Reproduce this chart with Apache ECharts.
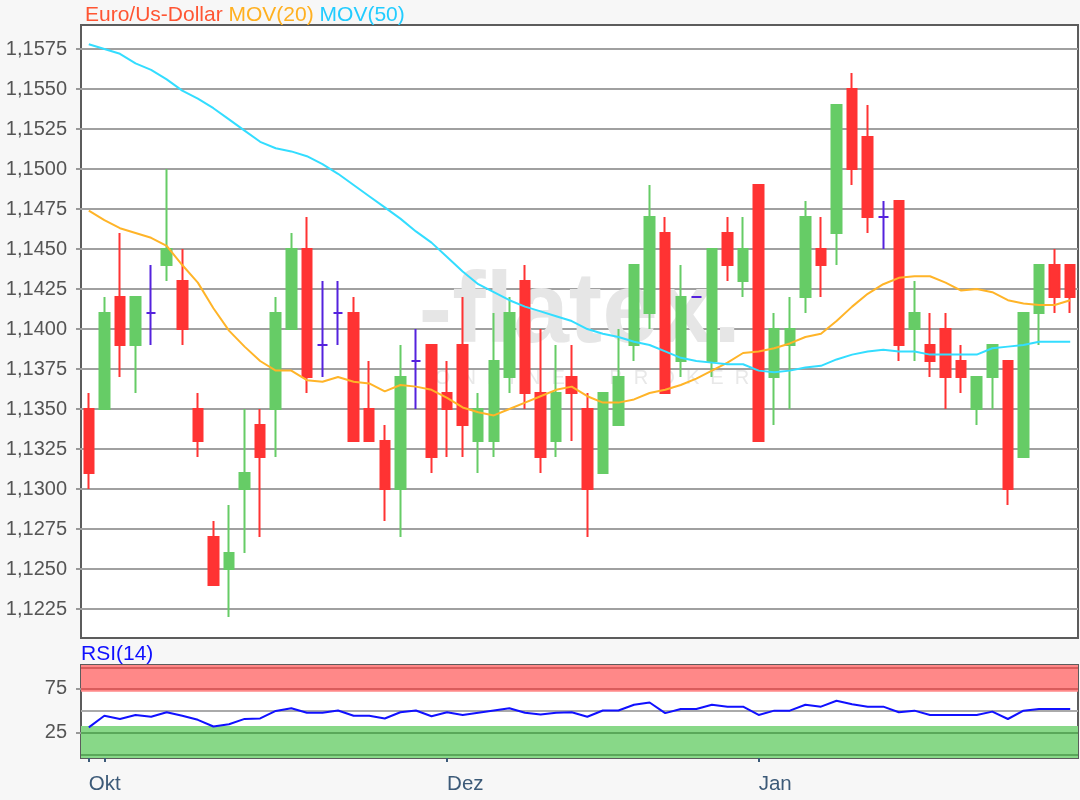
<!DOCTYPE html>
<html>
<head>
<meta charset="utf-8">
<script src="https://cdn.jsdelivr.net/npm/echarts@6/dist/echarts.min.js"></script>
<style>
html,body{margin:0;padding:0;background:#f7f7f7;}
#chart{width:1080px;height:800px;}
</style>
</head>
<body>
<div id="chart"></div>
<script>
// [open, close, low, high]
const candles = [
  [1.1350,1.1310,1.1300,1.1360],[1.1350,1.1410,1.1350,1.1420],[1.1420,1.1390,1.1370,1.1460],[1.1390,1.1420,1.1360,1.1420],
  [1.1410,1.1410,1.1390,1.1440],[1.1440,1.1450,1.1430,1.1500],[1.1430,1.1400,1.1390,1.1450],[1.1350,1.1330,1.1320,1.1360],
  [1.1270,1.1240,1.1240,1.1280],[1.1250,1.1260,1.1220,1.1290],[1.1300,1.1310,1.1260,1.1350],[1.1340,1.1320,1.1270,1.1350],
  [1.1350,1.1410,1.1320,1.1420],[1.1400,1.1450,1.1400,1.1460],[1.1450,1.1370,1.1360,1.1470],[1.1390,1.1390,1.1370,1.1430],
  [1.1410,1.1410,1.1390,1.1430],[1.1410,1.1330,1.1330,1.1420],[1.1350,1.1330,1.1330,1.1380],[1.1330,1.1300,1.1280,1.1340],
  [1.1300,1.1370,1.1270,1.1390],[1.1380,1.1380,1.1350,1.1400],[1.1390,1.1320,1.1310,1.1390],[1.1360,1.1350,1.1320,1.1380],
  [1.1390,1.1340,1.1320,1.1420],[1.1330,1.1350,1.1310,1.1360],[1.1330,1.1380,1.1320,1.1410],[1.1370,1.1410,1.1360,1.1420],
  [1.1430,1.1360,1.1350,1.1440],[1.1360,1.1320,1.1310,1.1400],[1.1330,1.1360,1.1320,1.1390],[1.1370,1.1360,1.1330,1.1390],
  [1.1350,1.1300,1.1270,1.1360],[1.1310,1.1360,1.1310,1.1360],[1.1340,1.1370,1.1340,1.1400],[1.1390,1.1440,1.1380,1.1440],
  [1.1410,1.1470,1.1400,1.1490],[1.1460,1.1360,1.1360,1.1470],[1.1380,1.1420,1.1370,1.1440],[1.1420,1.1420,1.1420,1.1420],
  [1.1380,1.1450,1.1370,1.1450],[1.1460,1.1440,1.1430,1.1470],[1.1430,1.1450,1.1420,1.1470],[1.1490,1.1330,1.1330,1.1490],
  [1.1370,1.1400,1.1340,1.1410],[1.1390,1.1400,1.1350,1.1420],[1.1420,1.1470,1.1410,1.1480],[1.1450,1.1440,1.1420,1.1470],
  [1.1460,1.1540,1.1440,1.1540],[1.1550,1.1500,1.1490,1.1560],[1.1520,1.1470,1.1460,1.1540],[1.1470,1.1470,1.1450,1.1480],
  [1.1480,1.1390,1.1380,1.1480],[1.1400,1.1410,1.1380,1.1430],[1.1390,1.1380,1.1370,1.1410],[1.1400,1.1370,1.1350,1.1410],
  [1.1380,1.1370,1.1360,1.1390],[1.1350,1.1370,1.1340,1.1370],[1.1370,1.1390,1.1350,1.1390],[1.1380,1.1300,1.1290,1.1380],
  [1.1320,1.1410,1.1320,1.1410],[1.1410,1.1440,1.1390,1.1440],[1.1440,1.1420,1.1410,1.1450],[1.1440,1.1420,1.1410,1.1440]
];
const mov20 = [
  1.1474,1.1468,1.1463,1.1460,1.1457,1.1452,1.1440,1.1429,1.1413,1.1399,1.1389,1.1380,1.1374,1.1374,1.1368,1.1367,
  1.1370,1.1367,1.1366,1.1361,1.1365,1.1364,1.1362,1.1357,1.1351,1.1348,1.1346,1.1350,1.1354,1.1358,1.1362,1.1364,
  1.1358,1.1354,1.1354,1.1356,1.1360,1.1362,1.1365,1.1369,1.1374,1.1379,1.1385,1.1386,1.1388,1.1391,1.1395,1.1397,
  1.1405,1.1414,1.1422,1.1428,1.1432,1.1433,1.1433,1.1429,1.1424,1.1425,1.1423,1.1418,1.1416,1.1415,1.1415,1.1418
];
const mov50 = [
  1.1578,1.1575,1.1572,1.1566,1.1562,1.1556,1.1549,1.1544,1.1538,1.1531,1.1524,1.1517,1.1513,1.1511,1.1508,1.1503,
  1.1497,1.1490,1.1483,1.1476,1.1469,1.1461,1.1454,1.1445,1.1436,1.1428,1.1423,1.1418,1.1414,1.1411,1.1408,1.1405,
  1.1400,1.1397,1.1395,1.1392,1.1390,1.1386,1.1382,1.1380,1.1379,1.1378,1.1378,1.1374,1.1373,1.1374,1.1376,1.1377,
  1.1381,1.1384,1.1386,1.1387,1.1386,1.1386,1.1384,1.1384,1.1384,1.1384,1.1388,1.1389,1.1390,1.1392,1.1392,1.1392
];
const rsi = [
  31,44,40.5,45,43,48,44,39.5,32,34.5,40.5,41,49.5,52.5,47.5,47.5,
  50,44,44,41,48,50,43.5,48,45,47.5,50,52.5,47.5,45.5,47.5,48,
  43,50,50,56.5,59,47,51.7,51.7,56.5,54.3,54.3,45,49.8,49.8,56.5,54.3,
  61,57,54.3,54.3,48,49.8,45,45,45,45,48.7,40.4,49.8,51.7,51.7,51.7
];
const categories = candles.map((_, i) => String(i));
const priceTicks = [1.1225,1.1250,1.1275,1.1300,1.1325,1.1350,1.1375,1.1400,1.1425,1.1450,1.1475,1.1500,1.1525,1.1550,1.1575];
const rsiTicks = [25, 75];
const monthLabels = {0: 'Okt', 23: 'Dez', 43: 'Jan'};
const monthTicks = [0, 1, 23, 43];

const chart = echarts.init(document.getElementById('chart'), null, {renderer: 'canvas'});
const FONT = 'Liberation Sans, Arial, sans-serif';
const tickSet = new Set(monthTicks);

const option = {
  backgroundColor: '#f7f7f7',
  animation: false,
  title: {
    left: 80, top: 0,
    text: '{a|Euro/Us-Dollar} {b|MOV(20)} {c|MOV(50)}',
    textStyle: {
      fontFamily: FONT, fontSize: 21, fontWeight: 'normal',
      rich: {
        a: {color: '#ff5533', fontSize: 21, fontFamily: FONT},
        b: {color: '#ffb020', fontSize: 21, fontFamily: FONT},
        c: {color: '#22ccff', fontSize: 21, fontFamily: FONT}
      }
    }
  },
  graphic: [
    {type: 'text', z: 1, left: 81, top: 644,
     style: {text: 'RSI(14)', fill: '#1010ff', font: '21px ' + FONT}},
    {type: 'text', z: 1, silent: true, x: 580, y: 314,
     style: {text: '-flatex.', fill: '#e6e6e6', font: 'bold 100px ' + FONT, align: 'center', verticalAlign: 'middle'}},
    {type: 'text', z: 1, silent: true, x: 592, y: 378,
     style: {text: 'O  N  L  I  N  E        B  R  O  K  E  R', fill: '#e8e8e8', font: '20px ' + FONT, align: 'center', verticalAlign: 'middle'}}
  ],
  grid: [
    {left: 81, right: 2, top: 25, height: 613, show: true, backgroundColor: '#ffffff', borderColor: '#5c5c5c', borderWidth: 2},
    {left: 81, right: 2, top: 665, height: 93, show: true, backgroundColor: '#ffffff', borderColor: '#5c5c5c', borderWidth: 2}
  ],
  xAxis: [
    {type: 'category', gridIndex: 0, data: categories, boundaryGap: true,
     axisLine: {show: false}, axisTick: {show: false}, axisLabel: {show: false}, splitLine: {show: false}},
    {type: 'category', gridIndex: 1, data: categories, boundaryGap: true,
     axisLine: {show: false},
     axisTick: {show: true, alignWithLabel: true, length: 7, interval: (i) => tickSet.has(i),
                lineStyle: {color: '#3c5a78', width: 2}},
     axisLabel: {show: true, interval: (i) => monthLabels[i] !== undefined,
                 formatter: (v, i) => monthLabels[i] || '', align: 'left',
                 color: '#3c5a78', fontSize: 20.5, fontFamily: FONT, margin: 16},
     splitLine: {show: false}}
  ],
  yAxis: [
    {type: 'value', gridIndex: 0, min: 1.12069, max: 1.1590, scale: true,
     axisLine: {show: false},
     axisTick: {show: true, length: 5, customValues: priceTicks, lineStyle: {color: '#999', width: 2}},
     axisLabel: {customValues: priceTicks, color: '#555', fontSize: 20, fontFamily: FONT, margin: 14,
                 formatter: (v) => v.toFixed(4).replace('.', ',')},
     splitLine: {show: true, lineStyle: {color: '#a0a0a0', width: 2}}},
    {type: 'value', gridIndex: 1, min: -3.5, max: 101.2,
     axisLine: {show: false},
     axisTick: {show: true, length: 5, customValues: rsiTicks, lineStyle: {color: '#999', width: 2}},
     axisLabel: {customValues: rsiTicks, color: '#555', fontSize: 20, fontFamily: FONT, margin: 14},
     splitLine: {show: false}}
  ],
  series: [
    {type: 'candlestick', xAxisIndex: 0, yAxisIndex: 0, data: candles, barWidth: 10, z: 3,
     itemStyle: {color: '#66cc66', color0: '#ff3333', borderColor: '#66cc66', borderColor0: '#ff3333',
                 borderColorDoji: '#5522dd', borderWidth: 2}},
    {type: 'line', xAxisIndex: 0, yAxisIndex: 0, data: mov20, symbol: 'none', z: 4,
     lineStyle: {color: '#ffb428', width: 2}},
    {type: 'line', xAxisIndex: 0, yAxisIndex: 0, data: mov50, symbol: 'none', z: 4,
     lineStyle: {color: '#33ddff', width: 2}},
    {type: 'line', xAxisIndex: 1, yAxisIndex: 1, data: rsi, symbol: 'none', z: 5,
     lineStyle: {color: '#1010ff', width: 2},
     markArea: {silent: true, data: [
       [{yAxis: 71.2, itemStyle: {color: '#ff8888'}}, {yAxis: 101.2}],
       [{yAxis: -3.5, itemStyle: {color: '#88d888'}}, {yAxis: 32.5}]
     ]},
     markLine: {silent: true, symbol: 'none', label: {show: false}, data: [
       {yAxis: 97.9, lineStyle: {color: '#d95c5c', width: 2, type: 'solid'}},
       {yAxis: 75, lineStyle: {color: '#d95c5c', width: 2, type: 'solid'}},
       {yAxis: 50, lineStyle: {color: '#aaaaaa', width: 2, type: 'solid'}},
       {yAxis: 25, lineStyle: {color: '#5aa85a', width: 2, type: 'solid'}},
       {yAxis: 0.7, lineStyle: {color: '#5aa85a', width: 2, type: 'solid'}}
     ]}}
  ]
};
chart.setOption(option);
</script>
</body>
</html>
